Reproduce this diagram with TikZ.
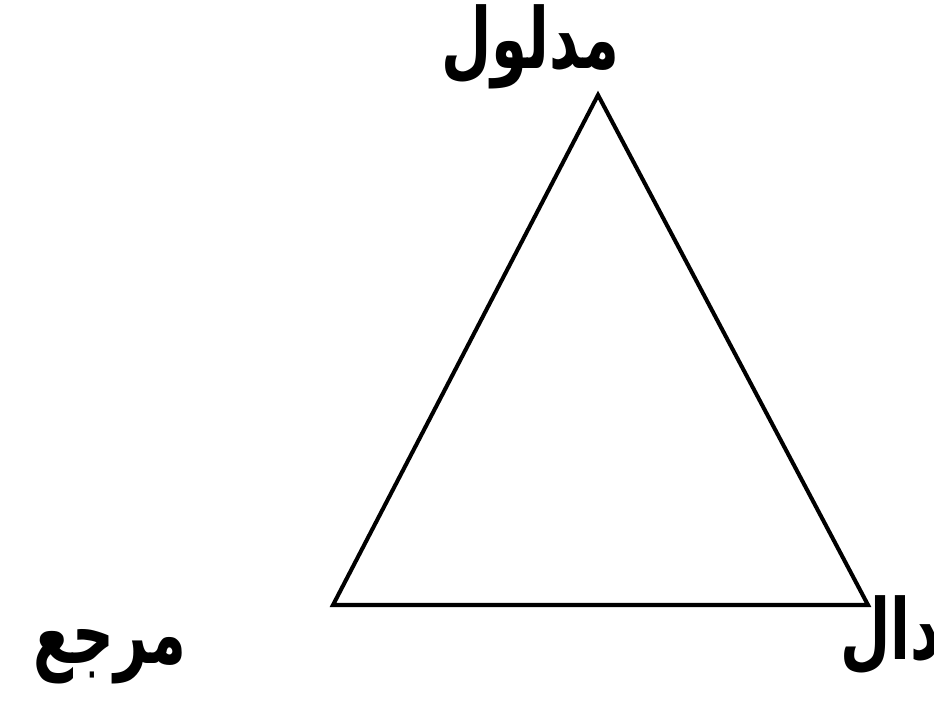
\documentclass[tikz,border=0pt]{standalone}
\usepackage{fontspec}
\usepackage{graphicx,tikz}
\newfontfamily\arabicfont[Script=Arabic]{DejaVu Sans}
\TeXXeTstate=1
\newcommand{\artext}[1]{\scalebox{1}[1.45]{\beginR #1\endR}}
\tikzset{
  lbl/.style={font=\arabicfont\bfseries\fontsize{33}{40}\selectfont, inner sep=0pt},
  side/.style={line width=2.3pt, line join=miter}
}

\begin{document}
\begin{tikzpicture}

        % Frame
        \useasboundingbox (0,0) rectangle (18.68,14);

        % Corners of the triangle
        \coordinate (top) at (11.96, 12.1);
        \coordinate (left) at (6.66, 1.9);
        \coordinate (right) at (17.36, 1.9);

        % Triangle
        \draw[side] (top) -- (right) -- (left) -- cycle;

        % Labels
        \node[lbl] (signified) at (10.6, 13.06) {\artext{مدلول}};
        \node[lbl] (referent) at (2.2, 0.86) {\artext{مرجع}};
        \node[lbl, anchor=west] (signifier) at (16.8, 1.3) {\artext{دال}};

    \end{tikzpicture}
\end{document}
